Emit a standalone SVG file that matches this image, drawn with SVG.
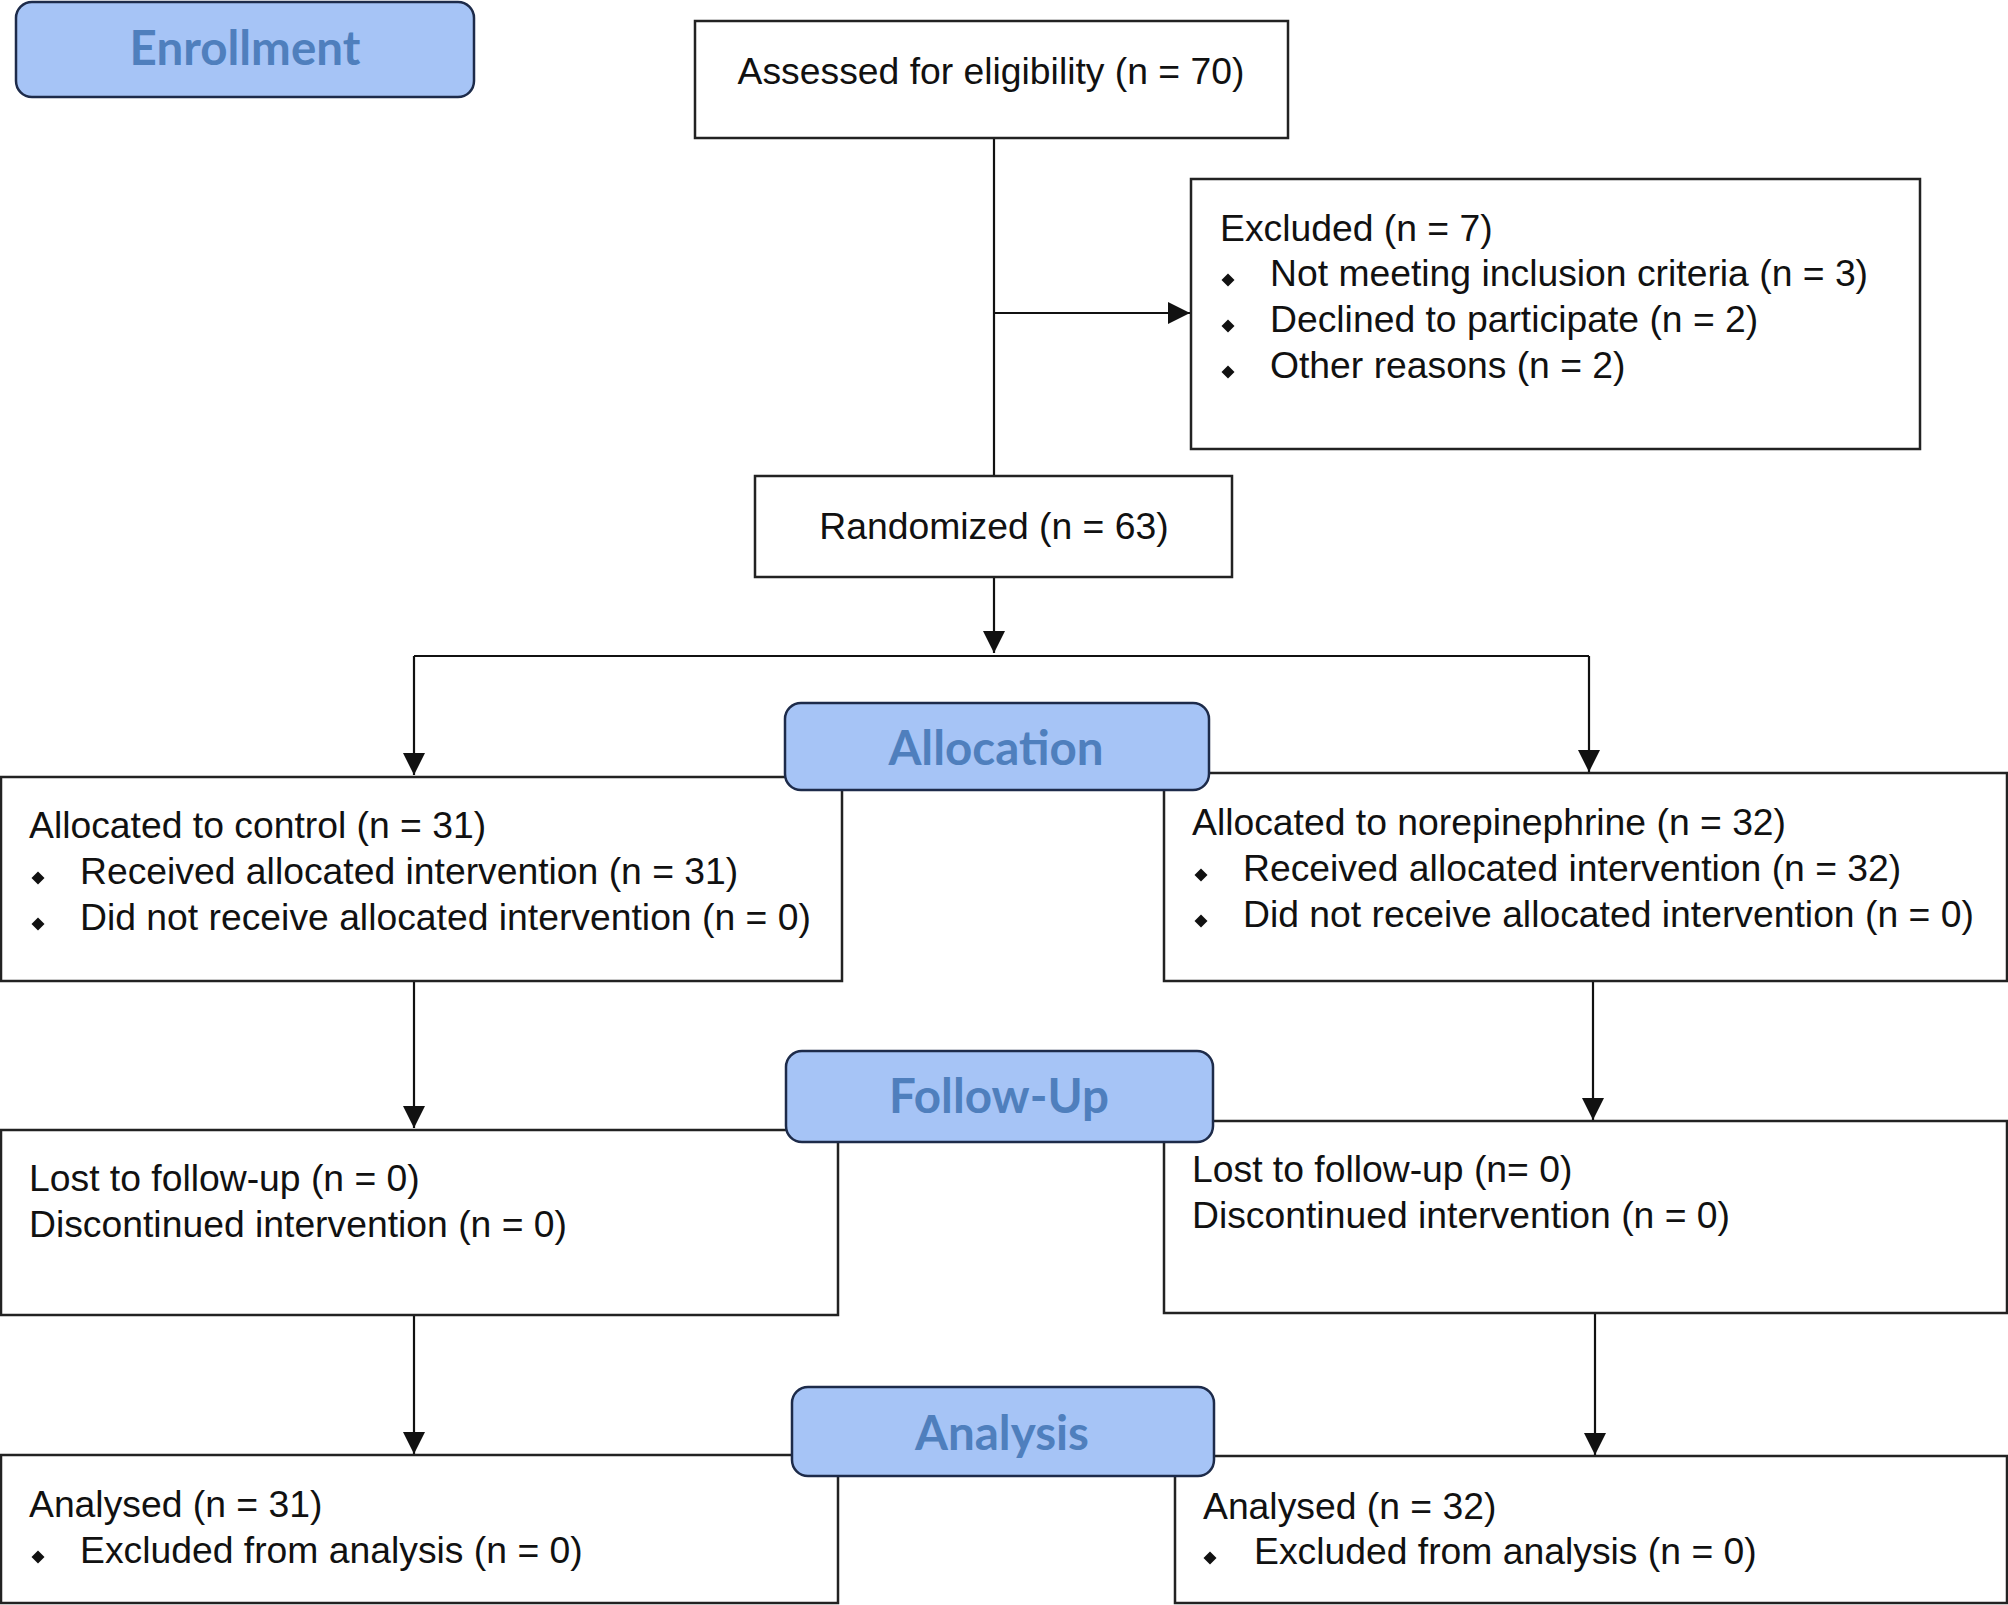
<svg xmlns="http://www.w3.org/2000/svg" xmlns:xlink="http://www.w3.org/1999/xlink" width="2008" height="1605" viewBox="0 0 2008 1605">
<style>
.box{fill:#fff;stroke:#222;stroke-width:2.5}
.lab{fill:#a6c4f6;stroke:#1d2b4a;stroke-width:2.5}
.t{font-family:"Liberation Sans",Arial,sans-serif;font-size:37.3px;fill:#111}
.lt{font-family:Lato,"Open Sans",sans-serif;font-weight:700;font-size:47.5px;fill:#4f7fbd;text-anchor:middle}
.c{text-anchor:middle}
.ln{fill:none;stroke:#111;stroke-width:2.2}
</style>
<defs>
<marker id="ah" markerUnits="userSpaceOnUse" markerWidth="22" markerHeight="24" viewBox="0 0 22 24" refX="22" refY="12" orient="auto">
<path d="M0,1 L22,12 L0,23 Z" fill="#111"/>
</marker>
<path id="dm" d="M0,-6.5 L6.5,0 L0,6.5 L-6.5,0 Z" fill="#111"/>
</defs>
<rect width="2008" height="1605" fill="#fff"/>
<g id="connectors">
<path class="ln" d="M994,138 V476"/>
<path class="ln" d="M994,313 H1190" marker-end="url(#ah)"/>
<path class="ln" d="M994,578 V653" marker-end="url(#ah)"/>
<path class="ln" d="M414,656 H1589"/>
<path class="ln" d="M414,656 V775" marker-end="url(#ah)"/>
<path class="ln" d="M1589,656 V772" marker-end="url(#ah)"/>
<path class="ln" d="M414,981 V1128" marker-end="url(#ah)"/>
<path class="ln" d="M1593,981 V1120" marker-end="url(#ah)"/>
<path class="ln" d="M414,1315 V1454" marker-end="url(#ah)"/>
<path class="ln" d="M1595,1313 V1455" marker-end="url(#ah)"/>
</g>
<g id="assessed">
<rect class="box" x="695" y="21" width="593" height="117"/>
<text class="t c" x="991" y="84">Assessed for eligibility (n = 70)</text>
</g>
<g id="excluded">
<rect class="box" x="1191" y="179" width="729" height="270"/>
<text class="t" x="1220" y="241">Excluded (n = 7)</text>
<use xlink:href="#dm" x="1228" y="280"/>
<text class="t" x="1270" y="286">Not meeting inclusion criteria (n = 3)</text>
<use xlink:href="#dm" x="1228" y="326"/>
<text class="t" x="1270" y="332">Declined to participate (n = 2)</text>
<use xlink:href="#dm" x="1228" y="372"/>
<text class="t" x="1270" y="378">Other reasons (n = 2)</text>
</g>
<g id="randomized">
<rect class="box" x="755" y="476" width="477" height="101"/>
<text class="t c" x="994" y="539">Randomized (n = 63)</text>
</g>
<g id="alloc-control">
<rect class="box" x="1" y="777" width="841" height="204"/>
<text class="t" x="29" y="838">Allocated to control (n = 31)</text>
<use xlink:href="#dm" x="38" y="878"/>
<text class="t" x="80" y="884">Received allocated intervention (n = 31)</text>
<use xlink:href="#dm" x="38" y="924"/>
<text class="t" x="80" y="930">Did not receive allocated intervention (n = 0)</text>
</g>
<g id="alloc-nor">
<rect class="box" x="1164" y="773" width="843" height="208"/>
<text class="t" x="1192" y="835">Allocated to norepinephrine (n = 32)</text>
<use xlink:href="#dm" x="1201" y="875"/>
<text class="t" x="1243" y="881">Received allocated intervention (n = 32)</text>
<use xlink:href="#dm" x="1201" y="921"/>
<text class="t" x="1243" y="927">Did not receive allocated intervention (n = 0)</text>
</g>
<g id="fu-control">
<rect class="box" x="1" y="1130" width="837" height="185"/>
<text class="t" x="29" y="1191">Lost to follow-up (n = 0)</text>
<text class="t" x="29" y="1237">Discontinued intervention (n = 0)</text>
</g>
<g id="fu-nor">
<rect class="box" x="1164" y="1121" width="843" height="192"/>
<text class="t" x="1192" y="1182">Lost to follow-up (n= 0)</text>
<text class="t" x="1192" y="1228">Discontinued intervention (n = 0)</text>
</g>
<g id="an-control">
<rect class="box" x="1" y="1455" width="837" height="148"/>
<text class="t" x="29" y="1517">Analysed (n = 31)</text>
<use xlink:href="#dm" x="38" y="1557"/>
<text class="t" x="80" y="1563">Excluded from analysis (n = 0)</text>
</g>
<g id="an-nor">
<rect class="box" x="1175" y="1456" width="832" height="147"/>
<text class="t" x="1203" y="1519">Analysed (n = 32)</text>
<use xlink:href="#dm" x="1210" y="1558"/>
<text class="t" x="1254" y="1564">Excluded from analysis (n = 0)</text>
</g>
<g id="enrollment">
<rect class="lab" x="16" y="2" width="458" height="95" rx="16"/>
<text class="lt" x="245" y="65">Enrollment</text>
</g>
<g id="allocation">
<rect class="lab" x="785" y="703" width="424" height="87" rx="16"/>
<text class="lt" x="996" y="765">Allocation</text>
</g>
<g id="followup">
<rect class="lab" x="786" y="1051" width="427" height="91" rx="16"/>
<text class="lt" x="999" y="1113">Follow-Up</text>
</g>
<g id="analysis">
<rect class="lab" x="792" y="1387" width="422" height="89" rx="16"/>
<text class="lt" x="1002" y="1450">Analysis</text>
</g>
</svg>
